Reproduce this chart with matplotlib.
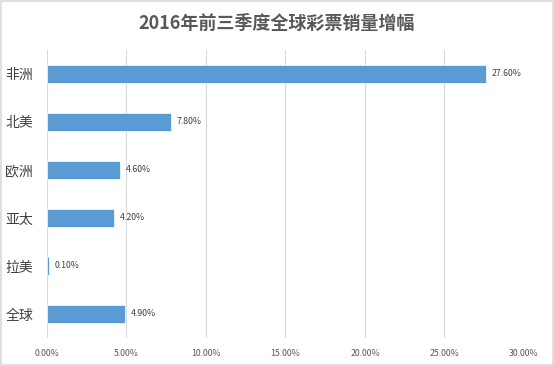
import matplotlib
matplotlib.use("Agg")
import matplotlib.pyplot as plt
from matplotlib.patches import Rectangle

plt.rcParams['font.family'] = ['Noto Sans CJK SC', 'DejaVu Sans']

categories = ['非洲', '北美', '欧洲', '亚太', '拉美', '全球']
values = [27.6, 7.8, 4.6, 4.2, 0.1, 4.9]
ticks = [0, 5, 10, 15, 20, 25, 30]
tick_labels = ['0.00%', '5.00%', '10.00%', '15.00%', '20.00%', '25.00%', '30.00%']
title = '2016年前三季度全球彩票销量增幅'

fig = plt.figure(figsize=(5.54, 3.66), dpi=100)
fig.patch.set_facecolor('white')
fig.patches.append(Rectangle((0.002, 0.003), 0.996, 0.994, transform=fig.transFigure,
                             fill=False, edgecolor='#d9d9d9', linewidth=1.2))

ax = fig.add_axes([0.0848, 0.0765, 0.861, 0.787])
y = list(range(len(categories)))
ax.barh(y, values, height=0.36, color='#5B9BD5', edgecolor='white', linewidth=0.5, zorder=3)
ax.set_ylim(len(categories) - 0.5, -0.5)
ax.set_xlim(0, 30)
ax.set_xticks(ticks)
ax.set_xticklabels(tick_labels, fontsize=6.3, color='#595959')
ax.set_yticks(y)
ax.set_yticklabels(categories, fontsize=10, color='#404040')
ax.tick_params(axis='x', length=0, pad=8)
ax.tick_params(axis='y', length=0, pad=10)
for s in ax.spines.values():
    s.set_visible(False)
ax.grid(axis='x', color='#d9d9d9', linewidth=0.8, zorder=0)
ax.set_axisbelow(True)

for yi, v in zip(y, values):
    ax.text(v + 0.35, yi, f'{v:.2f}%', va='center', ha='left', fontsize=6.3, color='#404040')

fig.text(0.5, 0.935, title, ha='center', va='center', fontsize=13, fontweight='bold', color='#595959')

fig.savefig('out.png', dpi=100)
